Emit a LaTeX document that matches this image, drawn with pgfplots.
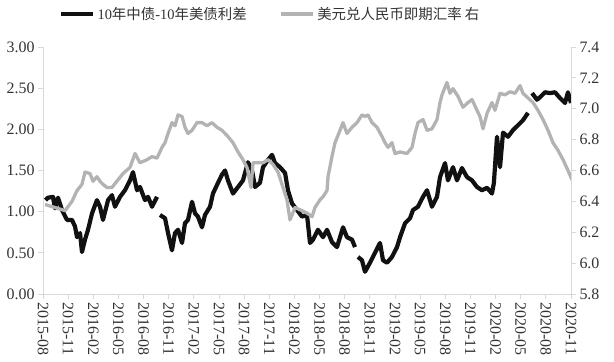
\documentclass[border=0pt]{standalone}
\usepackage{pgfplots}
\usepackage{pgfplotstable}
\pgfplotsset{compat=1.18}
\usepackage{fontspec}
\setmainfont{Liberation Serif}
\newfontfamily\cjk{Noto Sans CJK SC}
\definecolor{axisgray}{HTML}{D9D9D9}
\definecolor{spreadc}{HTML}{111111}
\definecolor{fxc}{HTML}{B3B3B3}
\definecolor{labelc}{HTML}{333333}

\pgfplotstableread{
m v
0.30 1.14
0.60 1.17
1.19 1.18
1.43 1.04
1.79 1.17
2.27 1.02
2.86 0.90
3.46 0.90
3.82 0.82
4.06 0.69
4.42 0.74
4.65 0.51
5.01 0.66
5.37 0.78
5.85 0.98
6.44 1.14
6.80 1.06
7.16 0.90
7.76 1.14
8.23 1.20
8.59 1.06
9.19 1.18
9.78 1.26
10.38 1.38
10.74 1.48
11.22 1.26
11.57 1.30
12.17 1.14
12.53 1.18
13.01 1.06
13.60 1.18
13.80 nan
13.96 0.96
14.56 0.92
14.92 0.74
15.39 0.53
15.75 0.74
16.11 0.78
16.59 0.62
16.94 0.86
17.30 0.90
17.78 1.12
18.14 0.98
18.49 0.94
18.97 0.81
19.33 0.96
19.93 1.06
20.28 1.22
20.88 1.35
21.36 1.45
21.72 1.50
22.07 1.38
22.67 1.22
23.27 1.30
23.86 1.38
24.46 1.60
24.94 1.50
25.30 1.30
25.89 1.35
26.25 1.54
26.85 1.63
27.33 1.69
27.68 1.59
28.28 1.54
28.88 1.47
29.23 1.26
29.71 1.10
30.31 1.02
30.90 0.94
31.50 0.96
31.86 0.62
32.22 0.66
32.81 0.78
33.41 0.69
33.89 0.78
34.48 0.63
35.08 0.57
35.44 0.69
35.80 0.81
36.27 0.69
36.87 0.66
37.23 0.57
37.40 nan
37.58 0.45
38.06 0.41
38.42 0.27
39.02 0.38
39.61 0.50
40.21 0.62
40.57 0.41
41.05 0.38
41.64 0.45
42.24 0.57
42.60 0.69
43.20 0.86
43.79 0.92
44.15 1.02
44.74 1.06
45.34 1.18
45.82 1.26
46.41 1.06
47.01 1.18
47.37 1.42
47.97 1.59
48.32 1.38
48.92 1.54
49.40 1.38
49.99 1.53
50.59 1.42
51.19 1.38
51.78 1.30
52.38 1.26
52.98 1.29
53.57 1.22
53.80 1.35
54.17 1.91
54.53 1.54
54.89 1.96
55.48 1.91
56.08 1.99
56.68 2.05
57.27 2.11
57.87 2.20
58.10 nan
58.35 2.44
58.94 2.36
59.30 2.39
59.90 2.45
60.49 2.44
61.09 2.45
61.69 2.38
62.28 2.32
62.64 2.45
63.00 2.32
}\spread

\pgfplotstableread{
m v
0.24 6.38
1.43 6.36
2.63 6.34
3.46 6.40
4.06 6.47
4.65 6.51
5.01 6.59
5.61 6.58
5.97 6.53
6.44 6.56
6.80 6.53
7.16 6.51
7.64 6.49
8.23 6.49
8.95 6.54
9.55 6.58
10.38 6.62
10.98 6.71
11.57 6.65
12.41 6.67
13.01 6.69
13.60 6.68
14.20 6.75
14.56 6.78
14.92 6.84
15.39 6.91
15.75 6.89
16.11 6.96
16.59 6.95
16.94 6.88
17.30 6.84
17.78 6.86
18.37 6.91
18.97 6.91
19.57 6.89
20.16 6.91
20.76 6.88
21.36 6.86
21.72 6.84
22.07 6.82
22.67 6.78
23.27 6.72
23.86 6.67
24.34 6.62
24.82 6.49
25.06 6.65
25.65 6.65
26.25 6.65
26.85 6.67
27.44 6.64
28.04 6.59
28.64 6.49
29.11 6.41
29.47 6.28
30.07 6.36
30.90 6.34
31.62 6.32
32.10 6.30
32.45 6.36
33.05 6.41
33.41 6.43
33.89 6.47
34.01 6.56
34.48 6.69
34.84 6.78
35.44 6.86
35.80 6.91
36.27 6.84
36.87 6.88
37.47 6.91
38.06 6.96
38.42 6.95
38.78 6.96
39.26 6.91
39.85 6.88
40.45 6.82
40.81 6.78
41.17 6.75
41.64 6.78
42.00 6.71
42.60 6.72
43.43 6.71
44.03 6.75
44.39 6.84
44.74 6.91
45.34 6.93
45.82 6.86
46.41 6.87
47.01 6.93
47.37 7.04
47.61 7.09
48.20 7.17
48.56 7.10
48.92 7.13
49.52 7.08
50.11 7.01
50.71 7.04
51.19 7.06
51.78 6.99
52.14 6.95
52.50 6.87
52.98 6.97
53.57 7.04
53.93 6.99
54.53 7.10
55.12 7.09
55.72 7.11
56.32 7.10
56.92 7.15
57.27 7.10
57.87 7.07
58.47 7.04
59.06 6.99
59.66 6.93
60.26 6.86
60.85 6.78
61.45 6.73
62.05 6.67
62.64 6.60
63.12 6.54
}\fx

\begin{document}
\begin{tikzpicture}
\useasboundingbox (-43bp,-68bp) rectangle (571bp,294bp);
\begin{axis}[
  scale only axis, width=528bp, height=247bp,
  xmin=0, xmax=63, ymin=0, ymax=3,
  axis x line*=bottom, axis y line*=left,
  axis line style={draw=axisgray, line width=0.8bp, -},
  tick style={draw=axisgray, line width=0.8bp},
  major tick length=5bp, tick align=outside,
  xtick={0,3,...,63},
  xticklabels={2015-08,2015-11,2016-02,2016-05,2016-08,2016-11,2017-02,2017-05,2017-08,2017-11,2018-02,2018-05,2018-08,2018-11,2019-02,2019-05,2019-08,2019-11,2020-02,2020-05,2020-08,2020-11},
  xticklabel style={rotate=-90, anchor=west, font=\fontsize{16}{16}\selectfont, text=labelc},
  ytick={0,0.5,1,1.5,2,2.5,3},
  yticklabel style={font=\fontsize{16}{16}\selectfont, text=labelc, /pgf/number format/.cd, fixed, fixed zerofill, precision=2, assume math mode=true},
  unbounded coords=jump,
  legend style={at={(0.03,1.134)}, anchor=west, draw=none, fill=none, legend columns=2,
    font=\fontsize{14.5}{15}\selectfont, text=labelc,
    /tikz/every even column/.append style={column sep=30bp},
    inner sep=0pt},
  legend image code/.code={\draw[#1, line width=4.5bp] (0bp,0bp) -- (32bp,0bp);},
]
\addplot[color=spreadc, line width=4.2bp, line join=round] table[x=m, y=v] {\spread};
\addlegendentry{10{\cjk 年中债}-10{\cjk 年美债利差}}
\addlegendimage{color=fxc, line width=3.3bp}
\addlegendentry{{\cjk 美元兑人民币即期汇率 右}}
\end{axis}
\begin{axis}[
  scale only axis, width=528bp, height=247bp,
  xmin=0, xmax=63, ymin=5.8, ymax=7.4,
  axis x line=none, axis y line*=right,
  axis line style={draw=axisgray, line width=0.8bp, -},
  tick style={draw=axisgray, line width=0.8bp},
  major tick length=5bp, tick align=outside,
  ytick={5.8,6.0,6.2,6.4,6.6,6.8,7.0,7.2,7.4},
  yticklabel style={font=\fontsize{16}{16}\selectfont, text=labelc, /pgf/number format/.cd, fixed, fixed zerofill, precision=1, assume math mode=true},
]
\addplot[color=fxc, line width=3.3bp, line join=round] table[x=m, y=v] {\fx};
\end{axis}
\end{tikzpicture}
\end{document}
